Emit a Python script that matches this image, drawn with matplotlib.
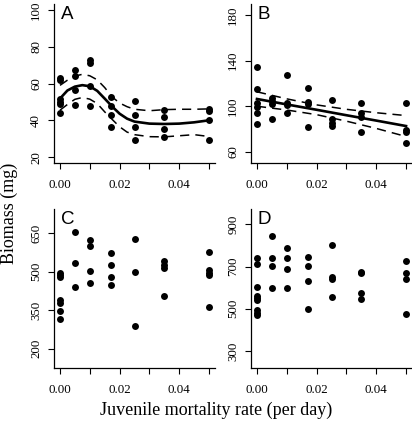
import matplotlib
matplotlib.use("Agg")
import matplotlib.pyplot as plt

# ---------------- data ----------------
x_levels = [0.0, 0.005, 0.01, 0.017, 0.025, 0.035, 0.05]

a_vals = [[63.0, 62.0, 51.5, 50.0, 48.8, 43.8],
          [67.3, 64.0, 56.7, 48.5],
          [72.7, 71.3, 58.5, 47.6],
          [52.9, 47.6, 43.1, 36.2],
          [50.5, 43.1, 36.4, 29.5],
          [45.8, 42.0, 35.1, 30.9],
          [46.4, 44.9, 40.3, 29.1]]

b_vals = [[134.0, 114.7, 103.0, 99.5, 93.6, 84.2],
          [106.8, 104.7, 101.8, 88.6],
          [127.2, 102.3, 101.0, 94.1],
          [115.5, 103.8, 101.8, 81.8],
          [105.3, 88.6, 85.4, 82.4],
          [102.9, 94.1, 90.0, 76.8],
          [102.9, 79.0, 77.5, 67.7]]

c_vals = [[495, 487, 478, 388, 378, 346, 317],
          [652, 533, 438],
          [621, 599, 503, 455],
          [571, 526, 480, 446],
          [626, 499, 290],
          [539, 527, 514, 403],
          [575, 505, 495, 486, 364]]

d_vals = [[742, 712, 603, 560, 550, 540, 493, 480, 468],
          [847, 741, 702, 598],
          [787, 742, 689, 597],
          [745, 705, 630, 501],
          [803, 650, 642, 555],
          [675, 668, 575, 548],
          [728, 669, 640, 474]]

# fitted curve for panel A
a_fit_x = [0.0, 0.0025, 0.005, 0.0075, 0.01, 0.0125, 0.015, 0.0175, 0.02,
           0.0225, 0.025, 0.03, 0.035, 0.04, 0.045, 0.05]
a_fit = [51.8, 56.2, 58.3, 59.1, 58.5, 56.0, 51.8, 47.5, 43.6, 40.9, 39.3,
         38.2, 38.0, 38.2, 38.9, 40.0]
a_upper = [59.0, 61.8, 64.0, 65.0, 64.2, 62.0, 57.8, 52.7, 49.4, 47.4, 46.0,
           45.2, 45.8, 46.0, 46.0, 46.2]
a_lower = [45.5, 48.6, 51.4, 52.4, 51.5, 49.1, 44.6, 40.5, 36.5, 33.6, 32.2,
           31.1, 31.0, 31.6, 32.2, 31.2]

# linear fit for panel B with confidence band
b_fit_x = [0.0, 0.01, 0.02, 0.03, 0.04, 0.05]
b_fit = [106.2, 101.4, 96.7, 91.9, 87.2, 82.4]
b_upper = [112.5, 106.3, 101.0, 97.1, 94.1, 91.6]
b_lower = [99.8, 96.5, 92.4, 86.7, 80.3, 73.2]

panel_letters = ["A", "B", "C", "D"]
y_ticks = [[20, 40, 60, 80, 100], [60, 100, 140, 180],
           [200, 350, 500, 650], [300, 500, 700, 900]]
y_lims = [(16.8, 103.2), (49.9, 189.7), (125, 743), (219, 973)]
x_ticks = [0.0, 0.01, 0.02, 0.03, 0.04, 0.05]
x_ticklabels = ["0.00", "", "0.02", "", "0.04", ""]

# ---------------- figure ----------------
plt.rcParams['font.family'] = ['Liberation Serif', 'DejaVu Serif']
W, H = 412, 425
fig = plt.figure(figsize=(W / 100, H / 100), dpi=100)

def box(l, t, r, b):
    return [l / W, 1 - b / H, (r - l) / W, (b - t) / H]

rects = [box(54, 4, 215, 163), box(251, 4, 412, 163),
         box(54, 209, 215, 368), box(251, 209, 412, 368)]

all_vals = [a_vals, b_vals, c_vals, d_vals]
axes = []
for i, rect in enumerate(rects):
    ax = fig.add_axes(rect)
    axes.append(ax)
    vals = all_vals[i]
    xs, ys = [], []
    for xv, group in zip(x_levels, vals):
        for v in group:
            xs.append(xv)
            ys.append(v)
    ax.plot(xs, ys, 'o', color='black', ms=5.0, mew=0, clip_on=False, zorder=3)
    ax.set_xlim(-0.002, 0.052)
    ax.set_ylim(*y_lims[i])
    ax.set_xticks(x_ticks)
    ax.set_xticklabels(x_ticklabels)
    ax.set_yticks(y_ticks[i])
    ax.set_yticklabels([str(t) for t in y_ticks[i]], rotation=90, va='center')
    ax.tick_params(direction='out', length=4.5, width=0.8, labelsize=9.3,
                   pad=7, colors='black')
    ax.tick_params(axis='y', pad=4)
    for s in ['top', 'right']:
        ax.spines[s].set_visible(False)
    for s in ['left', 'bottom']:
        ax.spines[s].set_linewidth(0.9)
    ax.text(0.043, 0.99, panel_letters[i], transform=ax.transAxes,
            ha='left', va='top', fontsize=13.5, family='Liberation Sans')
    ax.set_facecolor('none')

# fitted lines
axes[0].plot(a_fit_x, a_fit, color='black', lw=1.9, zorder=4)
axes[0].plot(a_fit_x, a_upper, color='black', lw=1.1, dashes=(6, 4), zorder=4)
axes[0].plot(a_fit_x, a_lower, color='black', lw=1.1, dashes=(6, 4), zorder=4)

axes[1].plot(b_fit_x, b_fit, color='black', lw=1.9, zorder=4)
axes[1].plot(b_fit_x, b_upper, color='black', lw=1.1, dashes=(6, 4), zorder=4)
axes[1].plot(b_fit_x, b_lower, color='black', lw=1.1, dashes=(6, 4), zorder=4)

fig.text(216 / W, 1 - 410 / H, "Juvenile mortality rate (per day)",
         ha='center', va='center', fontsize=13)
fig.text(9 / W, 1 - 213 / H, "Biomass (mg)", ha='center', va='center',
         rotation=90, fontsize=13)

fig.savefig("out.png", dpi=100, facecolor='white')
